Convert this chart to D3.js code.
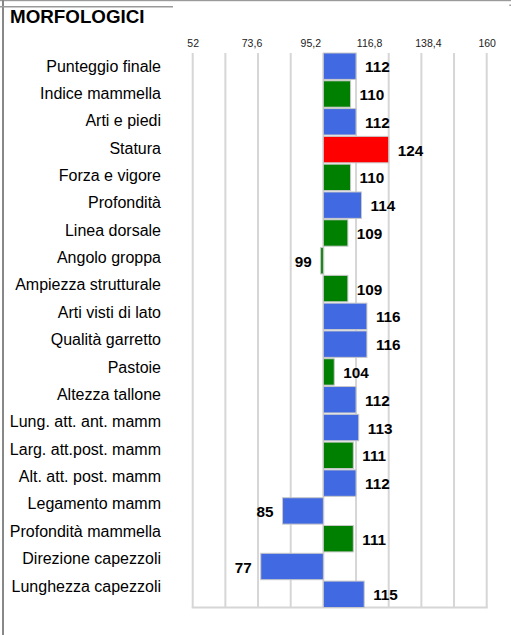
<!DOCTYPE html>
<html>
<head>
<meta charset="utf-8">
<script src="https://cdn.jsdelivr.net/npm/d3@7"></script>
<style>
  html, body { margin: 0; padding: 0; background: #fff; }
  svg { display: block; font-family: "Liberation Sans", Arial, sans-serif; }
</style>
</head>
<body>
<svg id="chart" width="511" height="635"></svg>
<script>
const title = "MORFOLOGICI";
const categories = [
  "Punteggio finale", "Indice mammella", "Arti e piedi", "Statura",
  "Forza e vigore", "Profondità", "Linea dorsale", "Angolo groppa",
  "Ampiezza strutturale", "Arti visti di lato", "Qualità garretto", "Pastoie",
  "Altezza tallone", "Lung. att. ant. mamm", "Larg. att.post. mamm",
  "Alt. att. post. mamm", "Legamento mamm", "Profondità mammella",
  "Direzione capezzoli", "Lunghezza capezzoli"
];
const values = [112, 110, 112, 124, 110, 114, 109, 99, 109, 116, 116, 104, 112, 113, 111, 112, 85, 111, 77, 115];
const groups = ["A", "B", "A", "C", "B", "A", "B", "B", "B", "A", "A", "B", "A", "A", "B", "A", "A", "B", "A", "A"];
const tickValues = [52, 73.6, 95.2, 116.8, 138.4, 160];
const gridValues = [52, 64, 76, 88, 100, 112, 124, 136, 148, 160];
const domainMin = 52, domainMax = 160, baseValue = 100;

(function () {
const svg = d3.select("#chart");

// frame lines
svg.append("rect").attr("x", 0).attr("y", 0).attr("width", 511).attr("height", 1.2).attr("fill", "#9a9a9a");
svg.append("rect").attr("x", 2).attr("y", 0).attr("width", 2).attr("height", 635).attr("fill", "#888");
svg.append("rect").attr("x", 0).attr("y", 6).attr("width", 173).attr("height", 1.5).attr("fill", "#9a9a9a");
svg.append("rect").attr("x", 509.5).attr("y", 4.5).attr("width", 1.2).attr("height", 1.5).attr("fill", "#777");

svg.append("text").attr("x", 10).attr("y", 22.5)
  .attr("font-size", 18.8).attr("font-weight", "bold").attr("fill", "#000")
  .text(title);

const pLeft = 192.7, pRight = 486.7, pTop = 53, pBottom = 607.5;
const x = d3.scaleLinear().domain([domainMin, domainMax]).range([pLeft, pRight]);
const y = d3.scaleBand().domain(categories).range([pTop, pBottom]).paddingInner(0.05).paddingOuter(0.0);
const yLabel = d3.scalePoint().domain(categories).range([66, 586]);
const color = d3.scaleOrdinal().domain(["A", "B", "C"]).range(["#4169E1", "#008000", "#FF0000"]);

// grid
svg.append("g").selectAll("line").data(gridValues).join("line")
  .attr("x1", d => x(d)).attr("x2", d => x(d))
  .attr("y1", pTop).attr("y2", pBottom)
  .attr("stroke", "#d6d6d6").attr("stroke-width", 2);
svg.append("line").attr("x1", pLeft - 1).attr("x2", pRight + 1)
  .attr("y1", pBottom).attr("y2", pBottom)
  .attr("stroke", "#d6d6d6").attr("stroke-width", 2);

// top axis labels
const fmt = d => String(d).replace(".", ",");
const axis = d3.axisTop(x).tickValues(tickValues).tickFormat(fmt).tickSize(0).tickPadding(0);
const ag = svg.append("g").attr("transform", "translate(0, 47)").call(axis);
ag.select(".domain").remove();
ag.selectAll("text").attr("font-size", 10.5).attr("fill", "#222")
  .attr("font-family", "Liberation Sans, Arial, sans-serif");

// bars
const data = categories.map((c, i) => ({ c, v: values[i], g: groups[i] }));
svg.append("g").selectAll("rect").data(data).join("rect")
  .attr("x", d => x(Math.min(d.v, baseValue)))
  .attr("width", d => Math.abs(x(d.v) - x(baseValue)))
  .attr("y", d => y(d.c))
  .attr("height", y.bandwidth())
  .attr("fill", d => color(d.g))
  .attr("stroke", "#c8c8c8").attr("stroke-width", 1);

// value labels
svg.append("g").selectAll("text").data(data).join("text")
  .attr("x", d => d.v >= baseValue ? x(d.v) + 9 : x(d.v) - 9)
  .attr("y", d => y(d.c) + y.bandwidth() / 2 + 6)
  .attr("text-anchor", d => d.v >= baseValue ? "start" : "end")
  .attr("font-size", 15.3).attr("font-weight", "bold").attr("fill", "#000")
  .text(d => d.v);

// category labels
svg.append("g").selectAll("text").data(categories).join("text")
  .attr("x", 161)
  .attr("y", d => yLabel(d) + 5.5)
  .attr("text-anchor", "end")
  .attr("font-size", 16).attr("fill", "#000")
  .text(d => d);
})();
</script>
</body>
</html>
